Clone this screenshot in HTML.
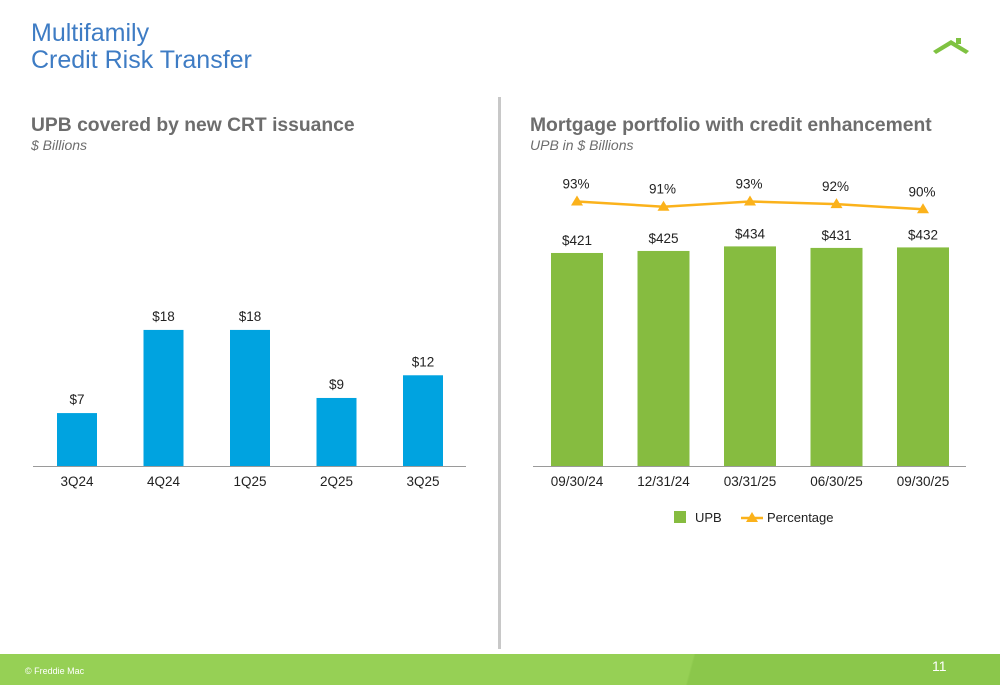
<!DOCTYPE html>
<html><head><meta charset="utf-8"><style>
body{margin:0;width:1000px;height:685px;background:#fff;font-family:"Liberation Sans",sans-serif;overflow:hidden;position:relative}
.abs{position:absolute}
</style></head><body>
<div class="abs" style="left:31px;top:20px;font-size:25px;line-height:27px;color:#3e7cc4">Multifamily<br>Credit Risk Transfer</div>
<svg class="abs" style="left:930px;top:35px" width="42" height="22" viewBox="0 0 42 22"><polygon points="3,16 21,5 39,16 36,19 21,10 6,19" fill="#7fc241"/><rect x="26" y="3" width="5" height="6" fill="#7fc241"/></svg>
<div class="abs" style="left:31px;top:115px;font-size:19.3px;font-weight:bold;color:#6d6d6d">UPB covered by new CRT issuance</div>
<div class="abs" style="left:31px;top:137px;font-size:14px;font-style:italic;color:#6d6d6d">$ Billions</div>
<div class="abs" style="left:530px;top:115px;font-size:19.3px;font-weight:bold;color:#6d6d6d">Mortgage portfolio with credit enhancement</div>
<div class="abs" style="left:530px;top:137px;font-size:14px;font-style:italic;color:#6d6d6d">UPB in $ Billions</div>
<div class="abs" style="left:498px;top:97px;width:3px;height:552px;background:#c8c8c8"></div>
<svg id="chart" class="abs" style="left:0;top:0" width="1000" height="685"></svg>
<div class="abs" style="left:0;top:654px;width:1000px;height:31px;background:linear-gradient(105deg,#96d055 0,#96d055 68.8%,#8bc74b 69%,#8bc74b 100%)"></div>
<div class="abs" style="left:25px;top:666px;font-size:9px;color:#fff">© Freddie Mac</div>
<div class="abs" style="left:932px;top:658px;font-size:14px;color:#fff">11</div>
<script>
const leftCats=["3Q24","4Q24","1Q25","2Q25","3Q25"];
const leftVals=[7,18,18,9,12];
const rightCats=["09/30/24","12/31/24","03/31/25","06/30/25","09/30/25"];
const upbVals=[421,425,434,431,432];
const pctVals=[93,91,93,92,90];
const NS="http://www.w3.org/2000/svg";
const svg=document.getElementById('chart');
function mk(t,a,txt){const e=document.createElementNS(NS,t);for(const k in a)e.setAttribute(k,a[k]);if(txt!==undefined)e.textContent=txt;svg.appendChild(e);return e;}
const base=466;
const lx=i=>77+i*86.5, ly=v=>base-v*7.56;
leftVals.forEach((v,i)=>{
 const r=mk('rect',{x:lx(i)-20,y:ly(v),width:40,height:base-ly(v),fill:'#00a3e0'});
 
 
 const t=mk('text',{x:lx(i),y:ly(v)-9,'font-size':13.5,'text-anchor':'middle',fill:'#222'},'$'+v);
 
 
 const c=mk('text',{x:lx(i),y:486,'font-size':13.5,'text-anchor':'middle',fill:'#222'},leftCats[i]);
 
 
});
const la=mk('line',{x1:33,x2:466,y1:base+0.5,y2:base+0.5,stroke:'#9a9a9a','stroke-width':1});


const rx=i=>577+i*86.5, ry=v=>base-v*0.506, py=p=>201.5+(93-p)*2.6;
upbVals.forEach((v,i)=>{
 const r=mk('rect',{x:rx(i)-26,y:ry(v),width:52,height:base-ry(v),fill:'#86bc40'});
 
 
 const t=mk('text',{x:rx(i),y:ry(v)-8,'font-size':13.5,'text-anchor':'middle',fill:'#222'},'$'+v);
 
 
 const c=mk('text',{x:rx(i),y:486,'font-size':13.5,'text-anchor':'middle',fill:'#222'},rightCats[i]);
 
 
});
const ra=mk('line',{x1:533,x2:966,y1:base+0.5,y2:base+0.5,stroke:'#9a9a9a','stroke-width':1});


const pl=mk('polyline',{points:pctVals.map((p,i)=>rx(i)+','+py(p)).join(' '),fill:'none',stroke:'#fbb21b','stroke-width':2.5});


pctVals.forEach((p,i)=>{
 const x=rx(i),y=py(p);
 const m=mk('polygon',{points:`${x},${y-6} ${x-6},${y+4} ${x+6},${y+4}`,fill:'#fbb21b'});
 
 
 const t=mk('text',{x:x-1,y:y-13,'font-size':13.5,'text-anchor':'middle',fill:'#222'},p+'%');
 
 
});
const g1=mk('rect',{x:674,y:511,width:12,height:12,fill:'#86bc40'});


const g2=mk('text',{x:695,y:522,'font-size':13,fill:'#222'},'UPB');


const g3=mk('line',{x1:741,x2:763,y1:518,y2:518,stroke:'#fbb21b','stroke-width':2.5});


const g4=mk('polygon',{points:'752,512 746,522 758,522',fill:'#fbb21b'});


const g5=mk('text',{x:767,y:522,'font-size':13,fill:'#222'},'Percentage');


</script>
</body></html>
